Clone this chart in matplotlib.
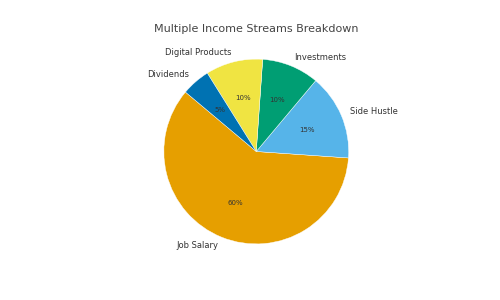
import matplotlib
matplotlib.use("Agg")
import matplotlib.pyplot as plt

labels = ["Job Salary", "Side Hustle", "Investments", "Digital Products", "Dividends"]
shares = [60, 15, 10, 10, 5]
colors = ["#E69F00", "#56B4E9", "#009E73", "#F0E442", "#0072B2"]

fig, ax = plt.subplots(figsize=(5, 3), dpi=100)

wedges, texts, autotexts = ax.pie(shares, labels=labels, colors=colors,
                                  autopct="%1.0f%%", startangle=140,
                                  wedgeprops=dict(edgecolor="white", linewidth=0.3),
                                  textprops=dict(color="#333333", fontsize=6))
for t in autotexts:
    t.set_fontsize(5)
ax.set_title("Multiple Income Streams Breakdown", fontsize=8, color="#444444", pad=3)

fig.savefig("out.png", dpi=100)
